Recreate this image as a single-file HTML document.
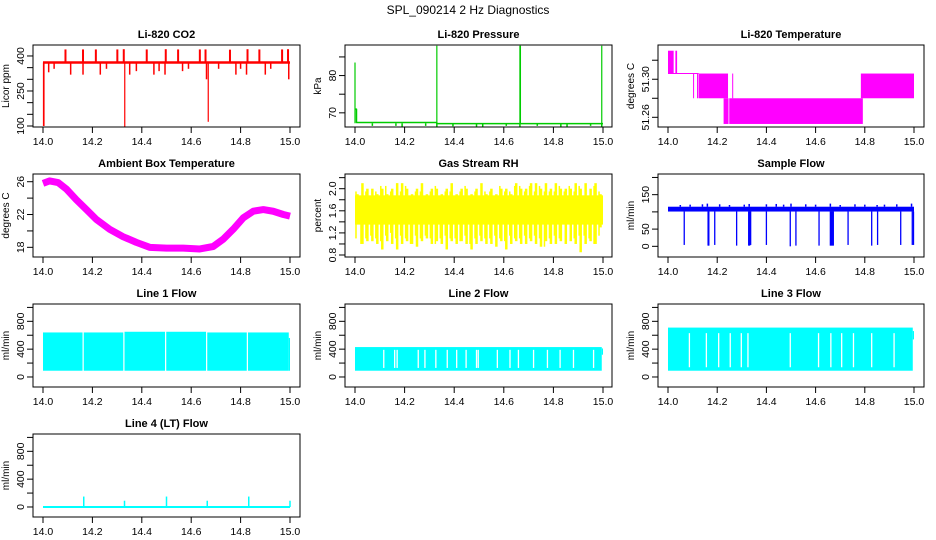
<!DOCTYPE html>
<html><head><meta charset="utf-8"><style>
html,body{margin:0;padding:0;background:#fff}
svg{display:block;font-family:"Liberation Sans",Arial,sans-serif}
</style></head><body>
<svg id="c" width="936" height="540" viewBox="0 0 936 540" xmlns="http://www.w3.org/2000/svg">
<text x="468" y="14" text-anchor="middle" font-size="12">SPL_090214  2 Hz Diagnostics</text>
</svg>
<script>
// ---- data ----
var xTicks = [14.0, 14.2, 14.4, 14.6, 14.8, 15.0];
var xTickLabels = ["14.0","14.2","14.4","14.6","14.8","15.0"];
// CO2
var co2Base = 372;
var co2UpT = [0.091,0.162,0.214,0.301,0.327,0.420,0.497,0.547,0.635,0.658,0.757,0.828,0.876,0.968,0.992];
var co2UpV = [428,428,428,428,429,428,429,428,428,428,427,429,428,428,429];
var co2DnT = [0.023,0.045,0.112,0.162,0.232,0.257,0.351,0.378,0.449,0.470,0.494,0.565,0.589,0.662,0.711,0.781,0.800,0.824,0.900,0.922,0.995];
var co2DnV = [330,345,320,320,320,345,320,335,320,335,320,335,345,300,345,320,345,320,320,345,300];
var co2BigT = [0.002,0.004,0.331,0.669];
var co2BigV = [100,100,97,118];
// Pressure
var prBaseT = [0.0,0.006,0.006,0.33,0.33,1.0];
var prBaseV = [71,71,67.4,67.4,67.1,67.1];
var prSpikeT = [0.0,0.33,0.665,0.667,0.995];
var prSpikeV = [83.5,88,88,88,88];
var prDipT = [0.07,0.165,0.19,0.285,0.33,0.395,0.49,0.515,0.61,0.665,0.735,0.83,0.855,0.95,0.995];
var prDipV = [66.5,66.5,66.3,66.5,66.3,66.4,66.3,66.3,66.5,66.3,66.5,66.3,66.3,66.5,66.3];
// Li-820 temperature bands
var tmpT0 = [0.000,0.030,0.124,0.226,0.249,0.784];
var tmpT1 = [0.023,0.037,0.244,0.246,0.792,1.000];
var tmpLo = [51.306,51.306,51.280,51.253,51.253,51.280];
var tmpHi = [51.330,51.330,51.306,51.280,51.280,51.306];
var tmpLineT = [0.0,0.124];
var tmpLineV = 51.306;
var tmpVT = [0.104,0.120,0.263];
var tmpVLo = [51.280,51.280,51.280];
var tmpVHi = [51.306,51.306,51.306];
// Ambient
var ambT = [0.000,0.027,0.061,0.095,0.135,0.176,0.216,0.270,0.324,0.378,0.432,0.500,0.568,0.635,0.689,0.730,0.770,0.811,0.851,0.892,0.932,0.973,1.000];
var ambV = [25.8,26.1,25.9,25.1,23.8,22.6,21.4,20.2,19.3,18.6,18.0,17.9,17.9,17.8,18.1,19.0,20.2,21.6,22.4,22.6,22.4,22.0,21.8];
// RH bins
var rhHi = [1.9,2.1,2.0,2.0,1.9,2.0,1.9,2.0,2.1,2.1,2.0,1.9,2.0,2.1,1.9,2.0,2.0,1.9,2.0,2.1,1.9,2.0,2.0,1.9,2.0,2.1,1.9,2.0,1.9,2.0,2.0,1.9,2.1,2.0,2.0,2.1,2.1,2.0,2.1,2.0,2.1,2.0,2.0,2.0,2.1,2.0,2.1,2.0,2.1,1.9];
var rhLo = [1.4,1.0,1.05,1.05,1.0,0.9,1.05,1.0,0.9,1.0,1.05,1.0,0.95,1.05,1.1,1.0,1.05,1.0,0.9,1.05,1.0,1.05,1.0,0.9,1.0,1.05,1.0,1.0,0.95,1.05,0.9,1.0,1.05,1.0,1.0,1.05,1.0,0.95,1.05,1.0,1.0,1.05,1.0,1.05,1.0,0.85,1.0,1.05,1.0,1.3];
var rhCore = [1.35,1.88];
// Sample flow
var sfLo = 101, sfHi = 115;
var sfUpT = [0.05,0.09,0.14,0.16,0.21,0.25,0.31,0.33,0.40,0.44,0.47,0.50,0.56,0.60,0.66,0.70,0.76,0.80,0.85,0.88,0.93,0.99];
var sfUpV = [120,121,122,124,122,120,121,123,122,123,121,124,122,121,124,120,122,121,120,121,122,124];
var sfDnT = [0.066,0.163,0.166,0.190,0.279,0.328,0.332,0.336,0.400,0.497,0.520,0.614,0.660,0.664,0.668,0.672,0.732,0.828,0.852,0.946,0.993,0.998];
var sfDnV = [4,2,2,4,2,2,2,4,4,0,2,2,2,2,2,2,4,2,4,4,4,4];
// Line flows
var l1T0 = [0.000,0.165,0.330,0.499,0.665,0.830,0.995];
var l1T1 = [0.160,0.325,0.494,0.660,0.825,0.995,1.000];
var l1Hi = [640,640,650,650,640,640,560];
var l1Lo = 90;
var l2Hi = 430, l2Lo = 90;
var l2Gaps = [0.116,0.160,0.170,0.255,0.282,0.326,0.372,0.410,0.448,0.490,0.497,0.574,0.625,0.659,0.720,0.776,0.827,0.881,0.962];
var l3Hi = 710, l3Lo = 90;
var l3Gaps = [0.087,0.156,0.206,0.253,0.298,0.325,0.497,0.612,0.662,0.706,0.754,0.828,0.919];
var l4Base = 0;
var l4SpikeT = [0.165,0.330,0.500,0.665,0.833,1.000];
var l4SpikeV = [150,90,150,90,150,90];

// ---- layout ----
var NS = "http://www.w3.org/2000/svg";
var svg = document.getElementById('c');
var colL = [33,345,658], colR = [300,612,924], colT0 = [43,355,668], colT1 = [290,603,914];
var rowT = [45,174,304,434], rowB = [127,257,387,517];
function mk(tag, attrs, parent){var e=document.createElementNS(NS,tag);for(var k in attrs)e.setAttribute(k,attrs[k]);(parent||svg).appendChild(e);return e;}
function panel(col,row,title,ylab,ymin,ymax,yt,ylabs,ylabTxt,name){
  var g = mk('g',{});
  
  
  var L=colL[col],R=colR[col],T=rowT[row],B=rowB[row];
  var p={g:g,L:L,R:R,T:T,B:B,
    x:function(t){return colT0[col]+t*(colT1[col]-colT0[col]);},
    y:function(v){return B-(v-ymin)/(ymax-ymin)*(B-T);}};
  var tt=mk('text',{x:(L+R)/2,y:T-7,'text-anchor':'middle','font-size':11,'font-weight':'bold'},g);
  tt.textContent=title;
  
  
  var plot=mk('g',{},g);
  
  
  p.plot=plot;
  var ax=mk('g',{stroke:'#000','stroke-width':1,fill:'none'},g);
  
  
  for(var i=0;i<xTicks.length;i++){
    var xx=p.x(xTicks[i]-14);
    mk('line',{x1:xx,x2:xx,y1:B,y2:B+6},ax);
    var tl=mk('text',{x:xx,y:B+18,'text-anchor':'middle','font-size':10.5,fill:'#000',stroke:'none'},g);
    tl.textContent=xTickLabels[i];
    
    
  }
  for(var j=0;j<yt.length;j++){
    var yy=p.y(yt[j]);
    mk('line',{x1:L-6,x2:L,y1:yy,y2:yy},ax);
  }
  for(var k=0;k<ylabs.length;k++){
    var y2=p.y(ylabs[k]);
    var yl=mk('text',{x:L-9,y:y2,'text-anchor':'middle','font-size':10.5,transform:'rotate(-90 '+(L-9)+' '+y2+')'},g);
    yl.textContent=ylabTxt[k];
    
    
  }
  var yc=(T+B)/2, xa=L-24;
  var at=mk('text',{x:xa,y:yc,'text-anchor':'middle','font-size':10,transform:'rotate(-90 '+xa+' '+yc+')'},g);
  at.textContent=ylab;
  
  
  return p;
}
function finish(p){var r=mk('rect',{x:p.L,y:p.T,width:p.R-p.L,height:p.B-p.T,fill:'none',stroke:'#000'},p.g);
  
  }
function vline(p,t,a,b,col,w){var e=mk('line',{x1:p.x(t),x2:p.x(t),y1:p.y(a),y2:p.y(b),stroke:col,'stroke-width':w||1},p.plot);
  
  }
function band(p,t0,t1,lo,hi,col){var x0=p.x(t0),x1=p.x(t1);var e=mk('rect',{x:x0,y:p.y(hi),width:Math.max(1,x1-x0),height:Math.max(1,p.y(lo)-p.y(hi)),fill:col},p.plot);
  
  }
function poly(p,ts,vs,col,w){var s=[];for(var i=0;i<ts.length;i++)s.push(p.x(ts[i])+','+p.y(vs[i]));
  var e=mk('polyline',{points:s.join(' '),fill:'none',stroke:col,'stroke-width':w,'stroke-linejoin':'round'},p.plot);
  
  }

// CO2
var p=panel(0,0,'Li-820 CO2','Licor ppm',95.7,447,[100,150,200,250,300,350,400],[100,250,400],['100','250','400'],'panel-co2');
poly(p,[0,1],[co2Base,co2Base],'#f00',2.5);
for(var i=0;i<co2UpT.length;i++)vline(p,co2UpT[i],co2Base,co2UpV[i],'#f00',2);
for(i=0;i<co2DnT.length;i++)vline(p,co2DnT[i],co2Base,co2DnV[i],'#f00',1.5);
for(i=0;i<co2BigT.length;i++)vline(p,co2BigT[i],co2Base,co2BigV[i],'#f00',1.2);
finish(p);
// Pressure
p=panel(1,0,'Li-820 Pressure','kPa',66.2,88.2,[70,75,80,85],[70,80],['70','80'],'panel-pressure');
poly(p,prBaseT,prBaseV,'#0c0',1.5);
for(i=0;i<prSpikeT.length;i++)vline(p,prSpikeT[i],67.2,prSpikeV[i],'#0c0',1.2);
for(i=0;i<prDipT.length;i++)vline(p,prDipT[i],67.2,prDipV[i],'#0c0',1.5);
finish(p);
// Temperature
p=panel(2,0,'Li-820 Temperature','degrees C',51.2498,51.336,[51.26,51.28,51.30,51.32],[51.26,51.30],['51.26','51.30'],'panel-li820-temp');
for(i=0;i<tmpT0.length;i++)band(p,tmpT0[i],tmpT1[i],tmpLo[i],tmpHi[i],'#f0f');
poly(p,tmpLineT,[tmpLineV,tmpLineV],'#f0f',1);
for(i=0;i<tmpVT.length;i++)vline(p,tmpVT[i],tmpVLo[i],tmpVHi[i],'#f0f',1);
finish(p);
// Ambient
p=panel(0,1,'Ambient Box Temperature','degrees C',16.82,26.94,[18,20,22,24,26],[18,22,26],['18','22','26'],'panel-ambient-temp');
poly(p,ambT,ambV,'#f0f',7);
finish(p);
// RH
p=panel(1,1,'Gas Stream RH','percent',0.764,2.266,[0.8,1.0,1.2,1.4,1.6,1.8,2.0,2.2],[0.8,1.2,1.6,2.0],['0.8','1.2','1.6','2.0'],'panel-rh');
band(p,0,1,rhCore[0],rhCore[1],'#ff0');
var nb=rhHi.length;
for(i=0;i<nb;i++){vline(p,(i+0.5)/nb,rhLo[i],rhHi[i],'#ff0',2.5);vline(p,(i+0.2)/nb,rhLo[(i+7)%nb]+0.1,rhHi[(i+3)%nb]-0.05,'#ff0',1.5);}
finish(p);
// Sample flow
p=panel(2,1,'Sample Flow','ml/min',-31,210,[0,50,100,150,200],[0,50,150],['0','50','150'],'panel-sample-flow');
band(p,0,1,sfLo,sfHi,'#00f');
for(i=0;i<sfUpT.length;i++)vline(p,sfUpT[i],sfHi,sfUpV[i],'#00f',1.5);
for(i=0;i<sfDnT.length;i++)vline(p,sfDnT[i],sfLo,sfDnV[i],'#00f',1.3);
finish(p);
// Line 1
var fy=[0,200,400,600,800,1000], fl=[0,400,800], flT=['0','400','800'];
p=panel(0,2,'Line 1 Flow','ml/min',-144,1049,fy,fl,flT,'panel-line1-flow');
for(i=0;i<l1T0.length;i++)band(p,l1T0[i],l1T1[i],l1Lo,l1Hi[i],'#0ff');
finish(p);
// Line 2
p=panel(1,2,'Line 2 Flow','ml/min',-144,1049,fy,fl,flT,'panel-line2-flow');
band(p,0,0.995,l2Lo,l2Hi,'#0ff');band(p,0.995,1,l2Lo+230,l2Hi-20,'#0ff');
for(i=0;i<l2Gaps.length;i++)vline(p,l2Gaps[i],l2Lo+40,l2Hi-40,'#fff',1.3);
finish(p);
// Line 3
p=panel(2,2,'Line 3 Flow','ml/min',-144,1049,fy,fl,flT,'panel-line3-flow');
band(p,0,0.995,l3Lo,l3Hi,'#0ff');band(p,0.995,1,l3Lo+450,l3Hi-50,'#0ff');
for(i=0;i<l3Gaps.length;i++)vline(p,l3Gaps[i],l3Lo+50,l3Hi-80,'#fff',1.3);
finish(p);
// Line 4
p=panel(0,3,'Line 4 (LT) Flow','ml/min',-144,1049,fy,fl,flT,'panel-line4-flow');
poly(p,[0,1],[l4Base,l4Base],'#0ff',2);
for(i=0;i<l4SpikeT.length;i++)vline(p,l4SpikeT[i],l4Base,l4SpikeV[i],'#0ff',1.5);
finish(p);
</script>
</body></html>
